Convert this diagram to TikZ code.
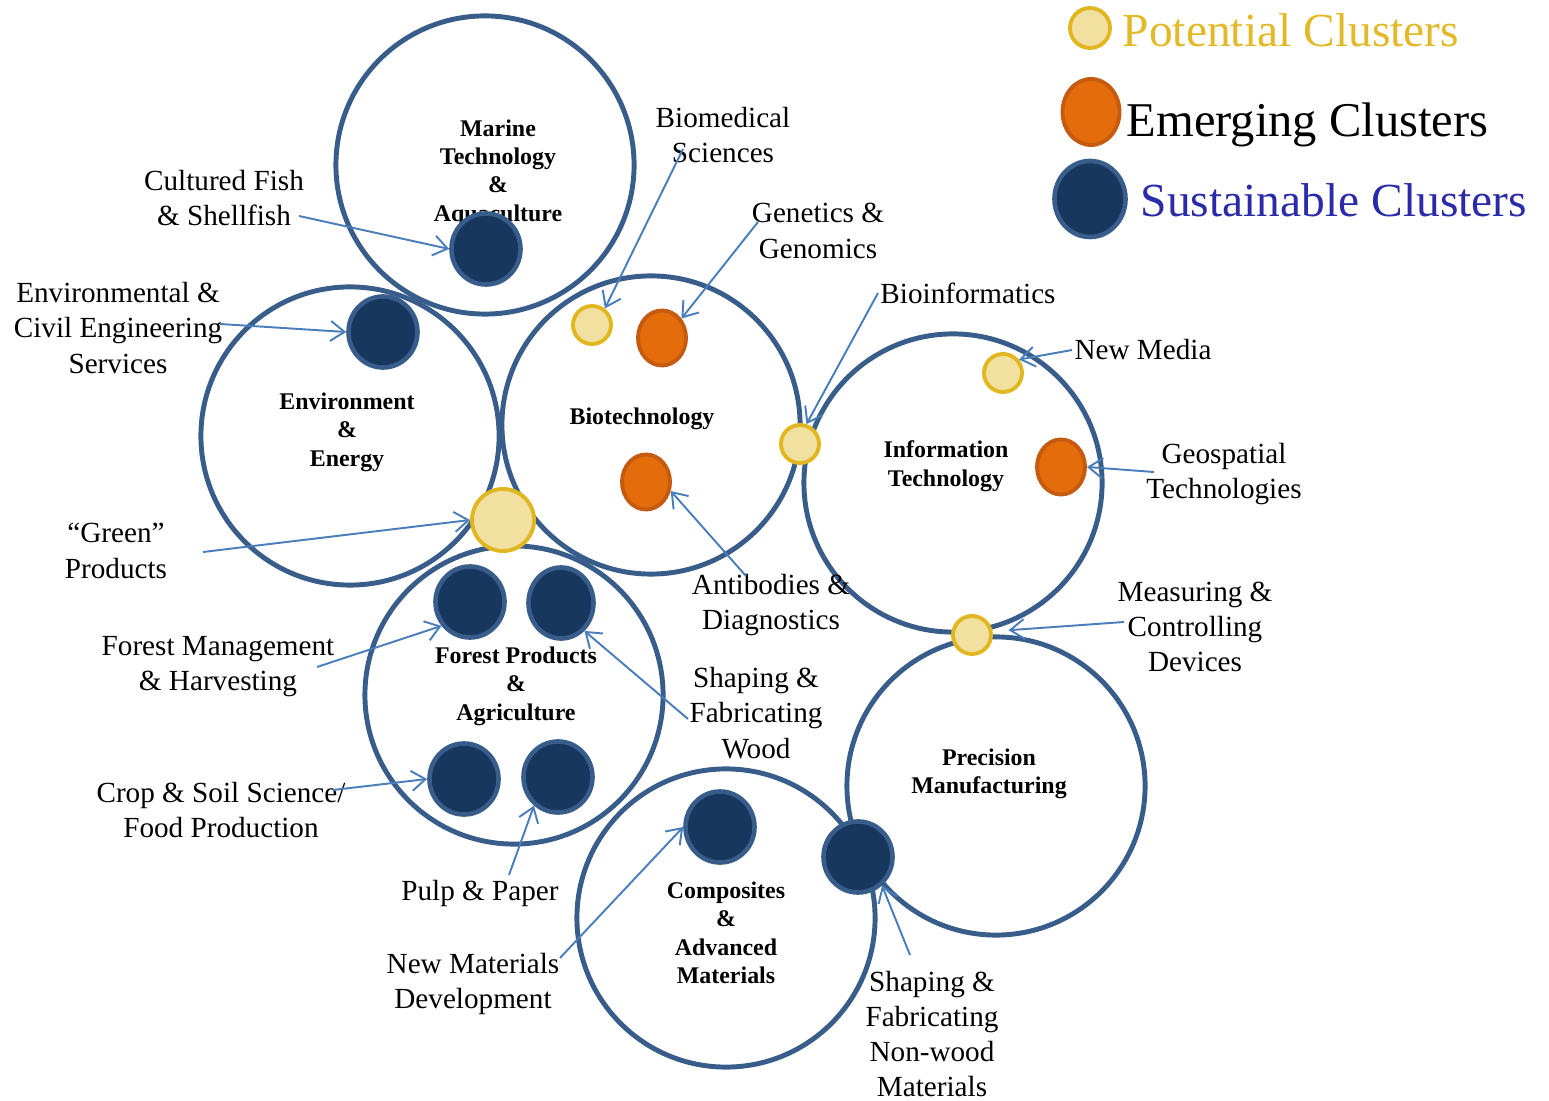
\documentclass[tikz,border=0pt]{standalone}
\usepackage{fontspec}
\setmainfont{Liberation Serif}
\usetikzlibrary{arrows.meta,shapes.geometric}

\definecolor{ringblue}{HTML}{385D8A}
\definecolor{navyfill}{HTML}{17375E}
\definecolor{orangefill}{HTML}{E46C0A}
\definecolor{orangeline}{HTML}{C55A11}
\definecolor{sandfill}{HTML}{F2E0A0}
\definecolor{goldline}{HTML}{E0B720}
\definecolor{pointerblue}{HTML}{4A7EBB}
\definecolor{potentialtext}{HTML}{E2B928}
\definecolor{sustaintext}{HTML}{2B2BAA}

\begin{document}
\begin{tikzpicture}[
        x=0.01cm, y=-0.01cm,
        cluster/.style={circle, draw=ringblue, line width=1.4pt, minimum size=2.98cm, inner sep=0pt},
        cluster_name/.style={align=center, font=\fontsize{6.8}{8.1}\selectfont\bfseries},
        sustainable/.style={ellipse, draw=ringblue, fill=navyfill, line width=1.3pt, minimum width=0.69cm, minimum height=0.71cm, inner sep=0pt},
        emerging/.style={ellipse, draw=orangeline, fill=orangefill, line width=1.1pt, minimum width=0.48cm, minimum height=0.55cm, inner sep=0pt},
        potential/.style={circle, draw=goldline, fill=sandfill, line width=1.1pt, minimum size=0.38cm, inner sep=0pt},
        callout/.style={align=center, inner sep=0.5pt, font=\fontsize{8.3}{10}\selectfont},
        legend_text/.style={anchor=base west, inner sep=0pt, font=\fontsize{13.5}{16}\selectfont},
        pointer/.style={draw=pointerblue, line width=0.55pt, -{Straight Barb[length=0.14cm,width=0.2cm]}}
    ]
        \useasboundingbox (0,0) rectangle (1549,1101);

        % Big cluster rings
        \node[cluster] (marine) at (485,165) {};
        \node[cluster] (envr) at (350,436) {};
        \node[cluster] (biotech) at (651,425) {};
        \node[cluster] (infotech) at (953,483) {};
        \node[cluster] (forest) at (514,695) {};
        \node[cluster] (precision) at (996,786) {};
        \node[cluster] (composites) at (726,918) {};

        % Cluster names
        \node[cluster_name] (marine_name) at (498,173) {Marine\\Technology\\\&\\Aquaculture};
        \node[cluster_name] (envr_name) at (347,432) {Environment\\\&\\Energy};
        \node[cluster_name] (biotech_name) at (642,419) {Biotechnology};
        \node[cluster_name] (infotech_name) at (946,466) {Information\\Technology};
        \node[cluster_name] (forest_name) at (516,686) {Forest Products\\\&\\Agriculture};
        \node[cluster_name] (precision_name) at (989,774) {Precision\\Manufacturing};
        \node[cluster_name] (composites_name) at (726,933) {Composites\\\&\\Advanced\\Materials};

        % Small clusters
        \node[sustainable] (aqua) at (486,249) {};
        \node[sustainable] (envc) at (383,332) {};
        \node[potential] (bio1) at (592,325) {};
        \node[emerging] (bio2) at (662,338) {};
        \node[emerging] (bio3) at (646,482) {};
        \node[potential] (bioit) at (800,444) {};
        \node[potential, minimum size=0.62cm] (green) at (503,520) {};
        \node[potential] (it1) at (1003,373) {};
        \node[emerging] (it2) at (1061,467) {};
        \node[potential] (itpm) at (972,635) {};
        \node[sustainable] (fp1) at (470,602) {};
        \node[sustainable, minimum width=0.65cm] (fp2) at (561,603) {};
        \node[sustainable] (fp3) at (464,779) {};
        \node[sustainable] (fp4) at (558,777) {};
        \node[sustainable] (cmp1) at (720,827) {};
        \node[sustainable] (cmpm) at (858,857) {};

        % Callout labels
        \node[callout] (fish) at (224,198) {Cultured Fish\\\& Shellfish};
        \node[callout] (envcivil) at (118,328) {Environmental \&\\Civil Engineering\\Services};
        \node[callout] (biomed) at (723,135) {Biomedical\\Sciences};
        \node[callout] (genetics) at (818,231) {Genetics \&\\Genomics};
        \node[callout] (bioinf) at (968,293) {Bioinformatics};
        \node[callout] (newmedia) at (1143,350) {New Media};
        \node[callout] (geo) at (1224,474) {Geospatial\\Technologies};
        \node[callout] (measure) at (1195,627) {Measuring \&\\Controlling\\Devices};
        \node[callout] (antibod) at (771,605) {Antibodies \&\\Diagnostics};
        \node[callout] (wood) at (756,713) {Shaping \&\\Fabricating\\Wood};
        \node[callout] (nonwood) at (932,1034) {Shaping \&\\Fabricating\\Non-wood\\Materials};
        \node[callout] (newmat) at (473,984) {New Materials\\Development};
        \node[callout] (pulp) at (480,893) {Pulp \& Paper};
        \node[callout] (crop) at (221,810) {Crop \& Soil Science/\\Food Production};
        \node[callout] (forestmgmt) at (218,667) {Forest Management\\\& Harvesting};
        \node[callout] (greenlbl) at (116,551) {“Green”\\Products};

        % Free ends of the pointers
        \coordinate (fish_t) at (299,216);
        \coordinate (envcivil_t) at (220,324);
        \coordinate (biomed_t) at (683,149);
        \coordinate (genetics_t) at (758,222);
        \coordinate (geo_t) at (1154,472);
        \coordinate (measure_t) at (1124,622);
        \coordinate (antibod_t) at (746,576);
        \coordinate (wood_t) at (688,719);
        \coordinate (nonwood_t) at (910,955);
        \coordinate (newmat_t) at (560,958);
        \coordinate (pulp_t) at (509,875);
        \coordinate (crop_t) at (333,790);
        \coordinate (forestmgmt_t) at (317,667);
        \coordinate (green_t) at (203,552);

        % Pointers
        \draw[pointer] (fish_t) -- (aqua.west);
        \draw[pointer] (envcivil_t) -- (envc.west);
        \draw[pointer] (biomed_t) -- (bio1.52);
        \draw[pointer] (genetics_t) -- (bio2.45);
        \draw[pointer] (bioinf.west) -- (bioit.72);
        \draw[pointer] (newmedia.west) -- (it1.40);
        \draw[pointer] (geo_t) -- (it2.east);
        \draw[pointer, shorten >=0.16cm] (measure_t) -- (itpm.10);
        \draw[pointer] (antibod_t) -- (bio3.-20);
        \draw[pointer] (wood_t) -- (fp2.-50);
        \draw[pointer] (nonwood_t) -- (cmpm.-50);
        \draw[pointer] (newmat_t) -- (cmp1.west);
        \draw[pointer] (pulp_t) -- (fp4.-130);
        \draw[pointer] (crop_t) -- (fp3.west);
        \draw[pointer] (forestmgmt_t) -- (fp1.-140);
        \draw[pointer] (green_t) -- (green.west);

        % Legend
        \node[potential, minimum width=0.4cm] (leg_pot) at (1090,28) {};
        \node[emerging, minimum width=0.57cm, minimum height=0.66cm] (leg_emg) at (1091,112) {};
        \node[sustainable, minimum width=0.71cm, minimum height=0.76cm] (leg_sus) at (1090,199) {};
        \node[legend_text, text=potentialtext] (leg_pot_txt) at (1122,47) {Potential Clusters};
        \node[legend_text, font=\fontsize{13.8}{16}\selectfont] (leg_emg_txt) at (1126,137) {Emerging Clusters};
        \node[legend_text, text=sustaintext] (leg_sus_txt) at (1140,217) {Sustainable Clusters};

    \end{tikzpicture}
\end{document}
